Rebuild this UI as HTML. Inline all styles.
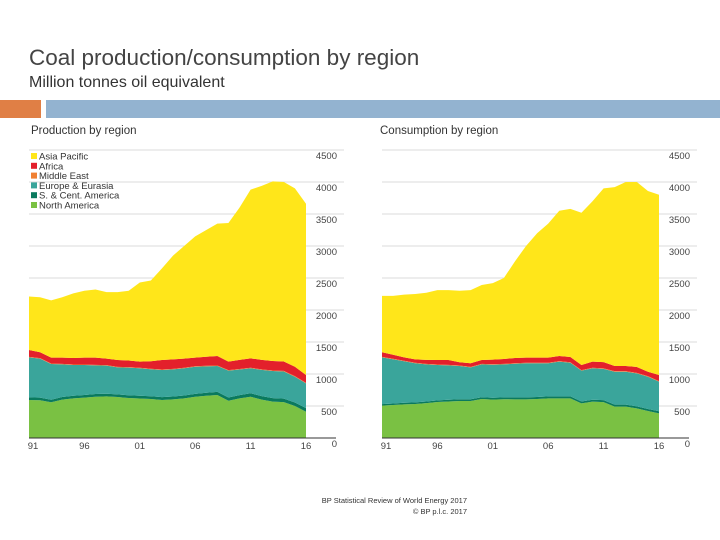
<!DOCTYPE html>
<html><head><meta charset="utf-8"><style>
body{margin:0;background:#fff;width:720px;height:540px;overflow:hidden;font-family:"Liberation Sans",sans-serif}
svg{position:absolute;left:0;top:0}
</style></head><body>
<svg id="s" width="720" height="540" xmlns="http://www.w3.org/2000/svg">
<text x="29" y="65" font-size="22.5" fill="#444">Coal production/consumption by region</text>
<text x="29" y="87" font-size="16" fill="#333">Million tonnes oil equivalent</text>
<rect x="0" y="100" width="41" height="18" fill="#E07F45"/>
<rect x="46" y="100" width="674" height="18" fill="#93B3D0"/>
<text x="31" y="134" font-size="11.5" fill="#333">Production by region</text>
<text x="380" y="134" font-size="11.5" fill="#333">Consumption by region</text>
<text x="467" y="503" font-size="7.5" fill="#333" text-anchor="end">BP Statistical Review of World Energy 2017</text>
<text x="467" y="514" font-size="7.5" fill="#333" text-anchor="end">© BP p.l.c. 2017</text>
<g id="left"></g>
<g id="right"></g>
</svg>
<script>
const years=["91","92","93","94","95","96","97","98","99","00","01","02","03","04","05","06","07","08","09","10","11","12","13","14","15","16"];
const yTicks=[0,500,1000,1500,2000,2500,3000,3500,4000,4500];
const xTickLabels=["91","96","01","06","11","16"];
const seriesNames=["North America","S. & Cent. America","Europe & Eurasia","Middle East","Africa","Asia Pacific"];
const seriesColors=["#7AC143","#0A7A5E","#3AA59B","#F08033","#E3202B","#FFE61A"];
// Production
const prodNA=[594,590,558,600,620,630,645,650,640,625,618,610,594,604,620,645,660,672,583,620,645,600,568,560,500,411];
const prodSCA=[40,40,40,40,40,42,42,42,42,42,42,42,45,45,45,45,48,48,50,50,55,55,55,55,55,55];
const prodEU=[626,610,558,510,480,468,448,438,422,433,429,423,424,424,425,424,412,405,419,400,389,410,424,425,403,388];
const prodME=[8,8,8,8,8,8,8,8,8,8,8,8,8,8,8,8,8,8,8,8,8,8,8,8,8,8];
const prodAF=[107,92,91,97,102,107,112,102,107,102,96,117,148,148,142,133,142,148,133,142,148,147,148,147,148,122];
const prodAP=[835,860,895,945,1010,1045,1065,1040,1061,1090,1237,1260,1431,1621,1760,1895,1980,2069,2167,2380,2635,2720,2807,2805,2786,2676];
// Consumption
const consNA=[505,515,525,531,545,562,570,578,578,609,600,605,604,604,610,620,620,620,541,568,560,490,490,463,422,385];
const consSCA=[25,25,25,25,25,25,28,28,28,28,28,30,30,30,30,30,30,30,30,30,32,32,32,32,32,32];
const consEU=[730,690,650,611,580,553,537,519,498,514,517,516,526,533,527,517,543,525,481,491,488,514,514,515,504,463];
const consME=[8,8,8,8,8,8,8,8,8,8,8,8,8,8,8,8,8,8,8,8,8,8,8,8,8,8];
const consAF=[71,62,52,54,62,71,76,50,55,60,72,75,82,80,80,80,80,82,80,96,97,81,81,92,70,96];
const consAP=[881,920,980,1021,1050,1091,1091,1117,1143,1171,1195,1266,1510,1745,1945,2095,2269,2315,2380,2507,2715,2795,2875,2890,2824,2816];

const NS="http://www.w3.org/2000/svg";
function mk(tag,attrs,parent){const e=document.createElementNS(NS,tag);for(const k in attrs)e.setAttribute(k,attrs[k]);parent.appendChild(e);return e;}

function drawChart(g,x0,x1,series,prefix,legend){
  const yBase=438,yTop=150,vMax=4500;
  const yS=v=>yBase-(v/vMax)*(yBase-yTop);
  const xS=i=>x0+i*(x1-x0)/(years.length-1);
  const lineEnd=x1+38;
  yTicks.forEach(t=>{
    if(t>0){
      const l=mk('line',{x1:x0,x2:lineEnd,y1:yS(t),y2:yS(t),stroke:'#cfcfcf','stroke-width':0.8},g);
      
      
    }
    const tx=mk('text',{x:x1+31,y:yS(t)+9,'font-size':9.5,fill:'#444','text-anchor':'end'},g);
    tx.textContent=t;
    
    
  });
  const cum=years.map(()=>0);
  series.forEach((vals,si)=>{
    const lower=cum.slice();
    vals.forEach((v,i)=>cum[i]+=v);
    let d='M'+xS(0)+','+yS(cum[0]);
    for(let i=1;i<years.length;i++)d+=' L'+xS(i)+','+yS(cum[i]);
    for(let i=years.length-1;i>=0;i--)d+=' L'+xS(i)+','+yS(lower[i]);
    d+='Z';
    const p=mk('path',{d:d,fill:seriesColors[si]},g);
    
    
  });
  const base=mk('line',{x1:x0,x2:lineEnd-8,y1:yBase,y2:yBase,stroke:'#333','stroke-width':1},g);
  
  
  xTickLabels.forEach(lb=>{
    const i=years.indexOf(lb);
    const t=mk('text',{x:xS(i)+(i===0?4:0),y:yBase+11,'font-size':9.5,fill:'#444','text-anchor':'middle'},g);
    t.textContent=lb;
    
    
  });
  if(legend){
    const order=[5,4,3,2,1,0];
    order.forEach((si,k)=>{
      const y=153+k*9.8;
      const r=mk('rect',{x:31,y:y,width:6,height:6,fill:seriesColors[si]},g);
      
      
      const t=mk('text',{x:39,y:y+6.5,'font-size':9.5,fill:'#333'},g);
      t.textContent=seriesNames[si];
      
      
    });
  }
}
drawChart(document.getElementById('left'),29,306,[prodNA,prodSCA,prodEU,prodME,prodAF,prodAP],'production',true);
drawChart(document.getElementById('right'),382,659,[consNA,consSCA,consEU,consME,consAF,consAP],'consumption',false);
</script>
</body></html>
